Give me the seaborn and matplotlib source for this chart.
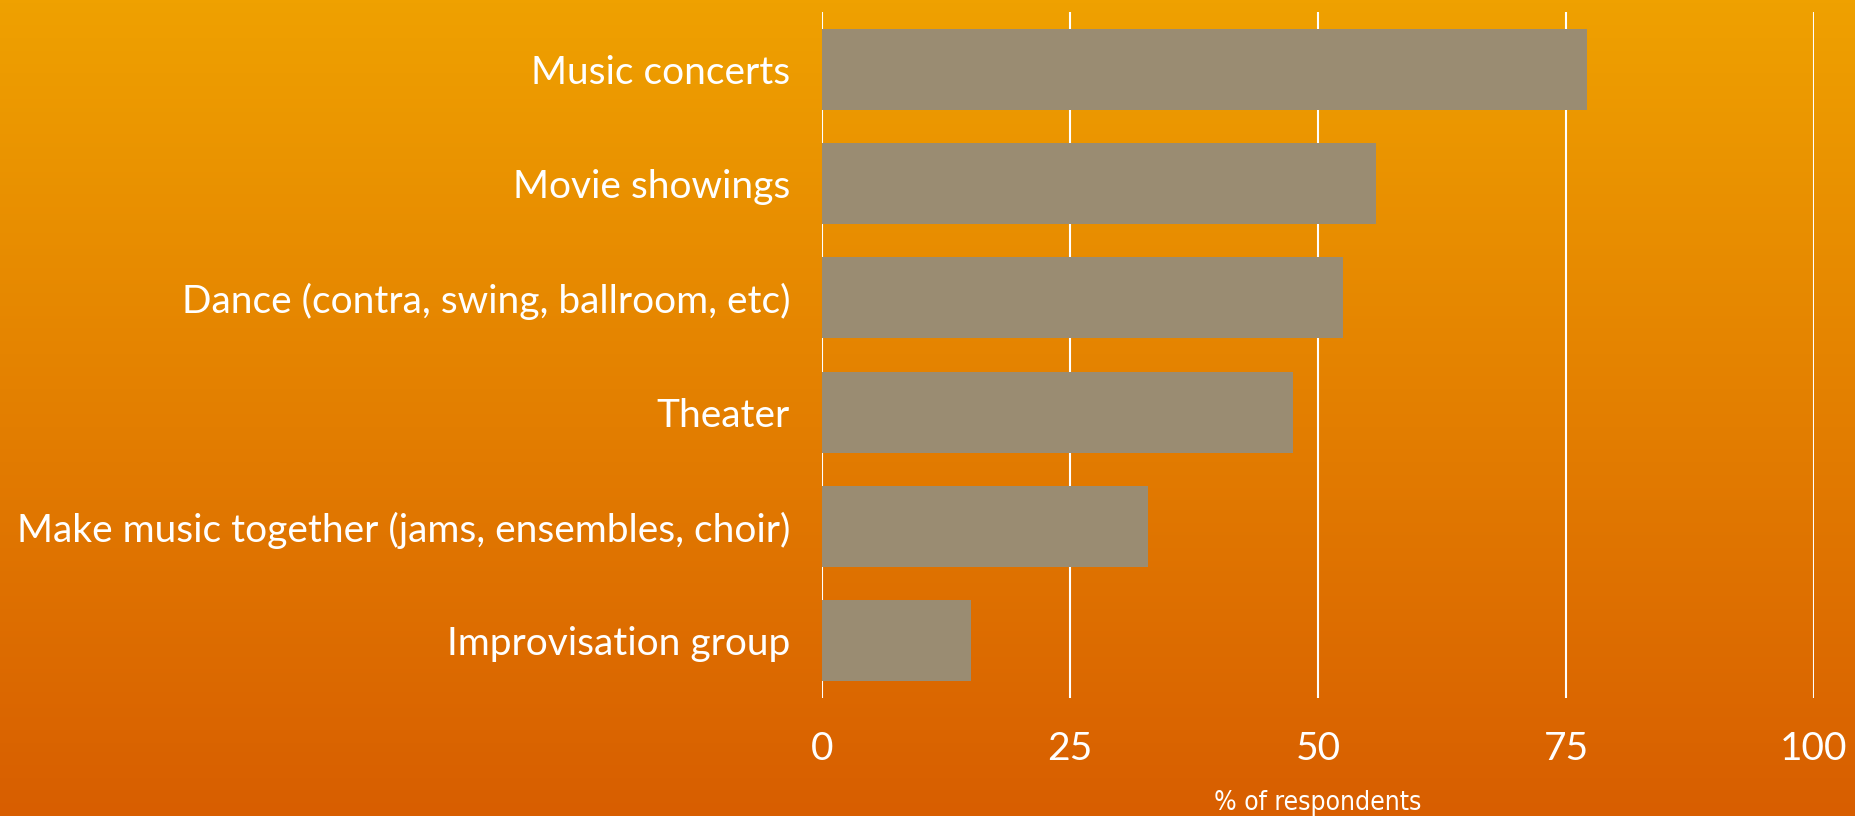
import numpy as np
import pandas as pd
import matplotlib
matplotlib.use("Agg")
import matplotlib.pyplot as plt
import seaborn as sns
from matplotlib.colors import LinearSegmentedColormap

# activities and share of respondents (%)
activities = [
    "Music concerts",
    "Movie showings",
    "Dance (contra, swing, ballroom, etc)",
    "Theater",
    "Make music together (jams, ensembles, choir)",
    "Improvisation group",
]
percent = [77.1, 55.8, 52.5, 47.5, 32.9, 15.0]
x_ticks = [0, 25, 50, 75, 100]

df = pd.DataFrame({"activity": activities, "percent": percent})

sns.set_style("white")
plt.rcParams["font.family"] = ["Lato", "DejaVu Sans"]

fig = plt.figure(figsize=(18.55, 8.16), dpi=100)

# orange gradient background
bg = fig.add_axes([0, 0, 1, 1], zorder=0)
grad = np.linspace(0, 1, 256).reshape(-1, 1)
cmap = LinearSegmentedColormap.from_list("bg", ["#EFA100", "#D85E00"])
bg.imshow(grad, aspect="auto", cmap=cmap, extent=[0, 1, 0, 1], origin="upper")
bg.set_axis_off()

ax = fig.add_axes([822 / 1855, 1 - 698 / 816, (1814 - 822) / 1855, (698 - 12) / 816], zorder=1)
ax.patch.set_alpha(0)

sns.barplot(data=df, x="percent", y="activity", orient="h", color="#9A8C72",
            width=0.71, saturation=1, linewidth=0, ax=ax, zorder=3)

ax.set_xlim(0, 100)
ax.set_ylim(5.5, -0.5)
ax.set_xticks(x_ticks)
ax.set_xticklabels([str(t) for t in x_ticks])
ax.grid(axis="x", color="white", linewidth=1.5, zorder=0)
ax.set_axisbelow(True)
for s in ax.spines.values():
    s.set_visible(False)
ax.tick_params(axis="both", length=0, colors="white", labelsize=28)
ax.tick_params(axis="y", pad=23)
ax.tick_params(axis="x", pad=24)
ax.set_ylabel("")
ax.set_xlabel("% of respondents", color="white", fontsize=19,
              family="DejaVu Sans", fontstretch="condensed", labelpad=16)

fig.savefig("out.png", dpi=100)
